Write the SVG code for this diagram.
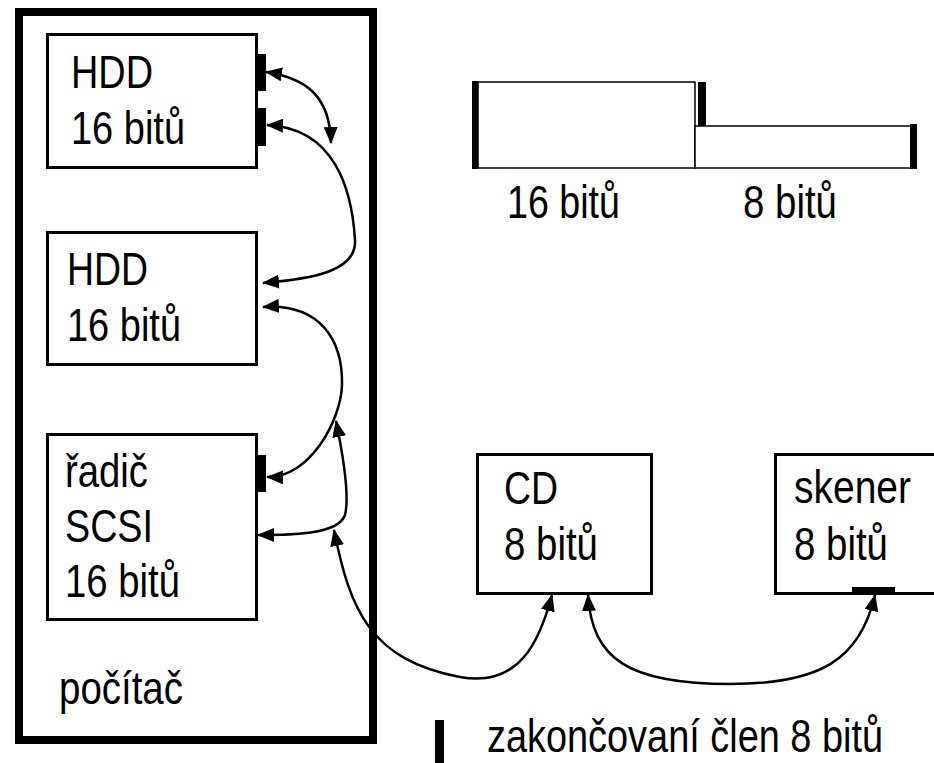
<svg xmlns="http://www.w3.org/2000/svg" width="934" height="763" viewBox="0 0 934 763">
<style>
  .t { font-family: "Liberation Sans", Arial, sans-serif; font-size: 47px; fill: #000; }
  .box { fill: #fff; stroke: #000; stroke-width: 3; }
  .thin { fill: #fff; stroke: #000; stroke-width: 1.5; }
  .bar { fill: #000; }
  .con { fill: none; stroke: #000; stroke-width: 2.5; marker-start: url(#ah); marker-end: url(#ah); }
</style>
<defs>
  <marker id="ah" viewBox="0 0 17 14" refX="16" refY="7" markerWidth="17" markerHeight="14" markerUnits="userSpaceOnUse" orient="auto-start-reverse">
    <path d="M0,0 L17,7 L0,14 z" fill="#000"/>
  </marker>
</defs>
<rect width="934" height="763" fill="#fff"/>

<g id="pocitac">
  <rect x="19" y="12" width="354" height="728" fill="#fff" stroke="#000" stroke-width="8"/>
  <text class="t" x="59" y="704" textLength="124" lengthAdjust="spacingAndGlyphs">počítač</text>
</g>

<g id="hdd1">
  <rect class="box" x="47.5" y="34.5" width="209" height="133"/>
  <rect class="bar" x="256" y="54" width="10" height="37"/>
  <rect class="bar" x="256" y="108" width="10" height="38"/>
  <text class="t" x="71" y="88" textLength="82" lengthAdjust="spacingAndGlyphs">HDD</text>
  <text class="t" x="71" y="144" textLength="114" lengthAdjust="spacingAndGlyphs">16 bitů</text>
</g>

<g id="hdd2">
  <rect class="box" x="47.5" y="232.5" width="209" height="132"/>
  <text class="t" x="67" y="285" textLength="81" lengthAdjust="spacingAndGlyphs">HDD</text>
  <text class="t" x="67" y="341" textLength="114" lengthAdjust="spacingAndGlyphs">16 bitů</text>
</g>

<g id="radic">
  <rect class="box" x="47.5" y="434.5" width="209" height="185"/>
  <rect class="bar" x="256" y="455" width="10" height="37"/>
  <text class="t" x="65" y="487" textLength="83" lengthAdjust="spacingAndGlyphs">řadič</text>
  <text class="t" x="65" y="542" textLength="88" lengthAdjust="spacingAndGlyphs">SCSI</text>
  <text class="t" x="65" y="597" textLength="115" lengthAdjust="spacingAndGlyphs">16 bitů</text>
</g>

<g id="cd">
  <rect class="box" x="477.5" y="454.5" width="174" height="139"/>
  <text class="t" x="504" y="504" textLength="54" lengthAdjust="spacingAndGlyphs">CD</text>
  <text class="t" x="504" y="560" textLength="94" lengthAdjust="spacingAndGlyphs">8 bitů</text>
</g>

<g id="skener">
  <rect class="box" x="775.5" y="454.5" width="180" height="139"/>
  <rect class="bar" x="852" y="587" width="43" height="8"/>
  <text class="t" x="794" y="503" textLength="117" lengthAdjust="spacingAndGlyphs">skener</text>
  <text class="t" x="794" y="560" textLength="94" lengthAdjust="spacingAndGlyphs">8 bitů</text>
</g>

<g id="sbernice">
  <rect class="thin" x="478" y="82" width="217" height="86"/>
  <rect class="thin" x="695" y="126" width="217" height="42"/>
  <rect class="bar" x="472" y="81" width="6" height="88"/>
  <rect class="bar" x="698" y="82" width="8" height="44"/>
  <rect class="bar" x="910" y="124" width="7" height="45"/>
  <text class="t" x="507" y="218" textLength="113" lengthAdjust="spacingAndGlyphs">16 bitů</text>
  <text class="t" x="743" y="218" textLength="94" lengthAdjust="spacingAndGlyphs">8 bitů</text>
</g>

<g id="legenda">
  <rect class="bar" x="435" y="720" width="9" height="43"/>
  <text class="t" x="487" y="752" textLength="396" lengthAdjust="spacingAndGlyphs">zakončovaní člen 8 bitů</text>
</g>

<g id="connectors">
  <path class="con" d="M266,72 C305,78 330,95 331,143"/>
  <path class="con" d="M267,125 C335,128 352,190 355,240 C357,272 310,279 263,283"/>
  <path class="con" d="M263,307 C320,303 343,340 342,385 C341,420 310,478 267,477"/>
  <path class="con" d="M336,421 C343,455 350,495 345,515 C338,535 290,535 258,535"/>
  <path class="con" d="M334,530 C350,610 370,660 460,677 C520,688 540,640 552,595"/>
  <path class="con" d="M588,595 C592,660 630,684 730,684 C820,684 860,660 875,595"/>
</g>
</svg>
